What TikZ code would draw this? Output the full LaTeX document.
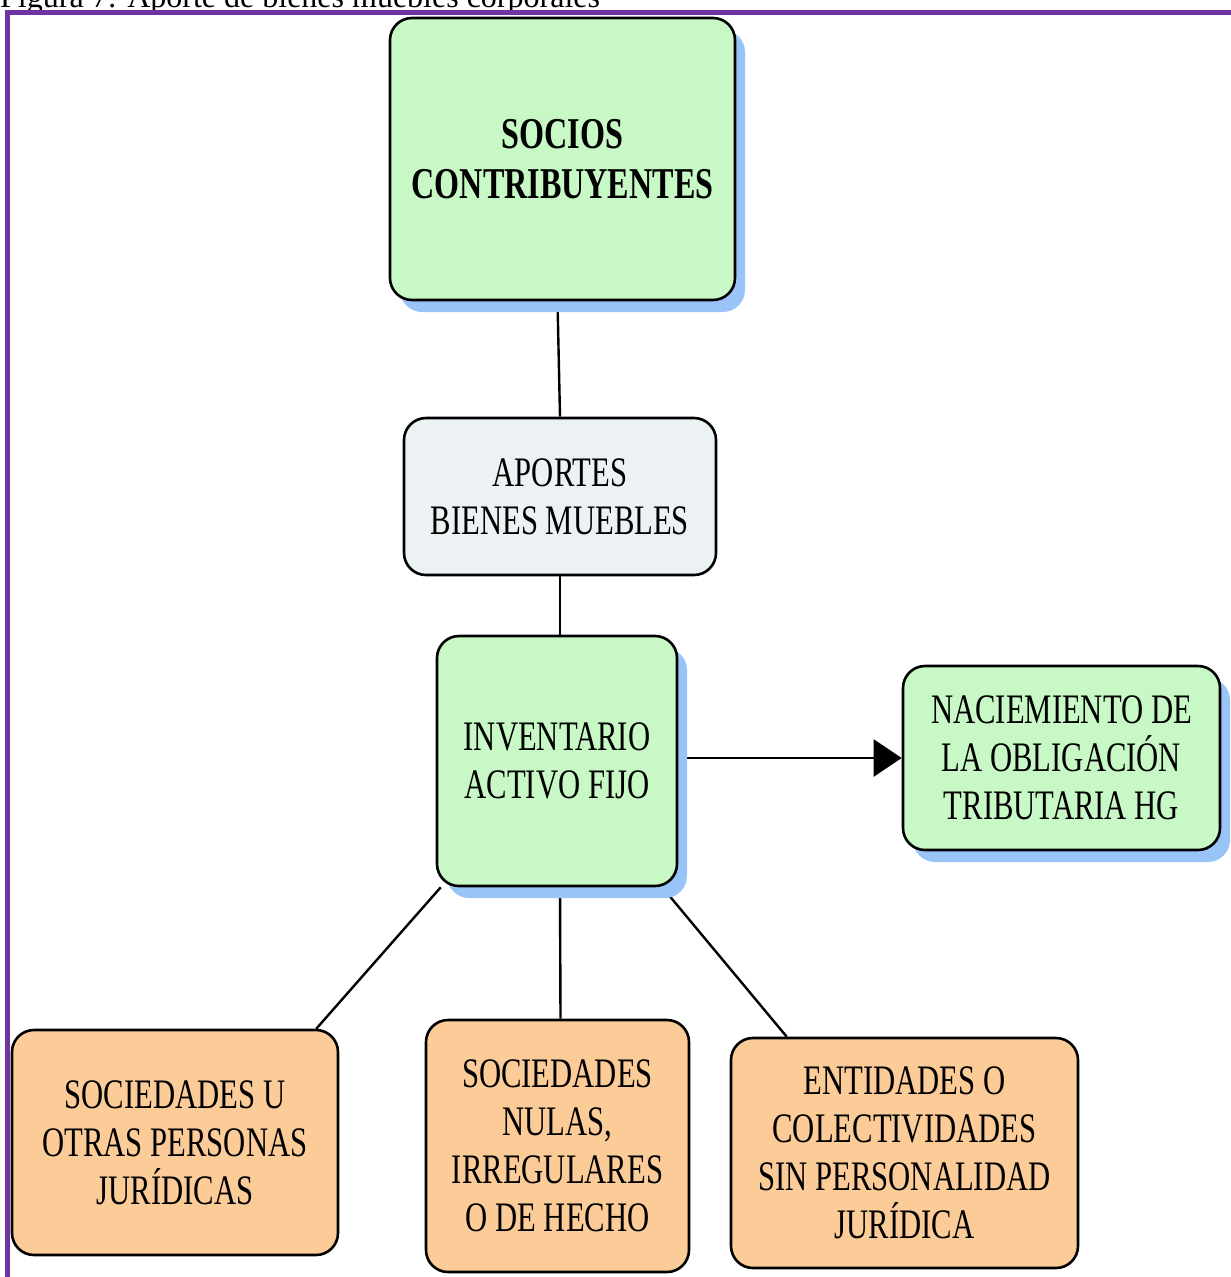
\documentclass[tikz,border=0pt]{standalone}
\usepackage{fontspec}
\setmainfont{Liberation Serif}
\newfontfamily\condfont[FakeStretch=0.73]{Liberation Serif}
\usetikzlibrary{shadows,arrows.meta,calc,backgrounds}
\definecolor{boxgreen}{RGB}{199,248,197}
\definecolor{boxgrey}{RGB}{236,241,244}
\definecolor{boxpeach}{RGB}{251,203,152}
\definecolor{shadeblue}{RGB}{153,196,248}
\definecolor{framepurple}{RGB}{112,52,160}
\tikzset{
  card/.style={draw=black, line width=2.6pt, rounded corners=22pt,
    align=center, inner sep=0pt, text=black,
    font=\condfont\fontsize{42pt}{48pt}\selectfont},
  shaded/.style={drop shadow={shadow xshift=10pt, shadow yshift=-12pt,
    fill=shadeblue, opacity=1}},
  greencard/.style={card, shaded, fill=boxgreen},
  greycard/.style={card, fill=boxgrey},
  peachcard/.style={card, fill=boxpeach},
  link/.style={draw=black, line width=2.4pt},
}
\begin{document}
\begin{tikzpicture}[x=1pt,y=-1pt]
\useasboundingbox (0,0) rectangle (1231,1277);
\clip (0,0) rectangle (1231,1277);

% caption line and frame
\node[anchor=base west, inner sep=0pt, font=\fontsize{32pt}{36pt}\selectfont] (cap) at (0,7)
  {Figura 7: Aporte de bienes muebles corporales};
\draw[framepurple, line width=5pt] (7.5,1290) -- (7.5,12) -- (1240,12);

% boxes
\node[greencard, minimum width=345pt, minimum height=282pt,
  font=\condfont\bfseries\fontsize{44pt}{50pt}\selectfont] (socios) at (562.5,159)
  {SOCIOS\\CONTRIBUYENTES};
\node[greycard, minimum width=312pt, minimum height=157pt] (aportes) at (560,496.5)
  {APORTES\\BIENES MUEBLES};
\node[greencard, minimum width=240pt, minimum height=250pt] (inv) at (557,761)
  {INVENTARIO\\ACTIVO FIJO};
\node[greencard, minimum width=317pt, minimum height=184pt] (nac) at (1061.5,758)
  {NACIEMIENTO DE\\LA OBLIGACIÓN\\TRIBUTARIA HG};
\node[peachcard, minimum width=326pt, minimum height=225pt] (soc1) at (175,1142.5)
  {SOCIEDADES U\\OTRAS PERSONAS\\JURÍDICAS};
\node[peachcard, minimum width=263pt, minimum height=252pt] (soc2) at (557.5,1146)
  {SOCIEDADES\\NULAS,\\IRREGULARES\\O DE HECHO};
\node[peachcard, minimum width=347pt, minimum height=230pt] (ent) at (904.5,1153)
  {ENTIDADES O\\COLECTIVIDADES\\SIN PERSONALIDAD\\JURÍDICA};

% connectors behind the boxes
\begin{scope}[on background layer]
  \draw[link] ($(socios.south)+(-5,0)$) -- (aportes.north);
  \draw[link] (aportes.south) -- (aportes.south |- inv.north);
  \draw[link, -{Triangle[length=28pt,width=37pt]}] (inv.east |- nac.west) -- (nac.west);
  \draw[link] ($(inv.south west)+(5,0)$) -- ($(soc1.north east)+(-23,0)$);
  \draw[link] ($(inv.south)+(3,0)$) -- ($(soc2.north)+(3,0)$);
  \draw[link] ($(inv.south east)+(-16,0)$) -- ($(ent.north west)+(57,0)$);
\end{scope}
\end{tikzpicture}
\end{document}
